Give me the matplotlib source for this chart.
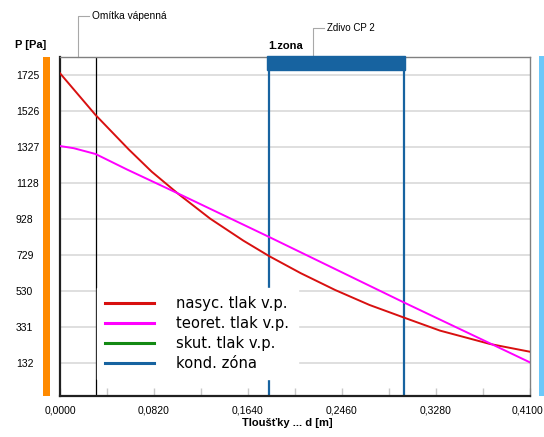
import matplotlib
matplotlib.use("Agg")
import matplotlib.pyplot as plt
from matplotlib.patches import Rectangle
import matplotlib.transforms as mtransforms
from matplotlib.lines import Line2D

plt.rcParams['font.family'] = ['Liberation Sans', 'DejaVu Sans']

# ---- data ----
d_nasyc = [0.000, 0.031, 0.060, 0.080, 0.103, 0.131, 0.160, 0.1826, 0.210, 0.240, 0.270, 0.301, 0.3315, 0.3751, 0.410]
p_nasyc = [1735, 1504, 1313, 1190, 1068, 930, 808, 722, 628, 535, 452, 380, 310, 236, 193]

d_teoret = [0.000, 0.012, 0.031, 0.0585, 0.1018, 0.1826, 0.300, 0.3766, 0.410]
p_teoret = [1332, 1320, 1288, 1202, 1073, 828, 466, 235, 134]

layer_bounds = [0.0, 0.031, 0.410]
layer_names = ["Omítka vápenná", "Zdivo CP 2"]
zone_start, zone_end = 0.1826, 0.3005
zone_label = "1.zona"

y_ticks = [132, 331, 530, 729, 928, 1128, 1327, 1526, 1725]
x_ticks = [0.0, 0.082, 0.164, 0.246, 0.328, 0.410]
x_tick_labels = ["0,0000", "0,0820", "0,1640", "0,2460", "0,3280", "0,4100"]
x_minor = [0.041 * i for i in range(11)]

legend_labels = ["nasyc. tlak v.p.", "teoret. tlak v.p.", "skut. tlak v.p.", "kond. zóna"]

c_red = '#d81010'
c_pink = '#ff00ff'
c_green = '#138a13'
c_blue = '#1763a0'

W, H = 544, 437
fig = plt.figure(figsize=(W / 100, H / 100), dpi=100)
L, R, T, B = 60, 530, 57, 396
PX = 0.41 / (R - L)
ax = fig.add_axes([L / W, 1 - B / H, (R - L) / W, (B - T) / H])
ax.set_xlim(0, 0.41)
ax.set_ylim(-52, 1825)

# grid
for v in y_ticks:
    ax.axhline(v, color='#d6d6d6', lw=1.1, zorder=1)

# layer boundary and zone lines
ax.axvline(layer_bounds[1], color='black', lw=0.9, zorder=2)
ax.axvline(zone_start, color=c_blue, lw=1.6, zorder=2)
ax.axvline(zone_end, color=c_blue, lw=1.6, zorder=2)

# curves
ax.plot(d_nasyc, p_nasyc, color=c_red, lw=1.4, zorder=3)
ax.plot(d_teoret, p_teoret, color=c_pink, lw=1.4, zorder=3)

# zone bar at top
trans = mtransforms.blended_transform_factory(ax.transData, ax.transAxes)
ax.add_patch(Rectangle((zone_start - 2 * PX, 1 - 13 / (B - T)), zone_end - zone_start + 3 * PX, 14 / (B - T),
                       transform=trans, color=c_blue, clip_on=False, zorder=6))
ax.text(zone_start - 1 * PX, 1 + 11 / (B - T), zone_label, transform=trans, ha='left', va='center',
        fontsize=8, fontweight='bold')

# layer name leaders
tops = [16, 28]
sizes = [7.3, 7.0]
for i, name in enumerate(layer_names):
    mid = (layer_bounds[i] + layer_bounds[i + 1]) / 2
    ytop = 1 + (T - tops[i]) / (B - T)
    dx = 11 * PX
    ax.plot([mid, mid, mid + dx], [1.0, ytop, ytop], transform=trans, color='#a8a8a8', lw=0.8,
            clip_on=False, zorder=1)
    ax.text(mid + dx + 3 * PX, ytop, name, transform=trans, ha='left', va='center',
            fontsize=sizes[i])

# spines
for s in ['left', 'bottom']:
    ax.spines[s].set_color('#202020')
    ax.spines[s].set_linewidth(1.6)
for s in ['top', 'right']:
    ax.spines[s].set_color('#808080')
    ax.spines[s].set_linewidth(1.0)

# ticks
ax.set_yticks(y_ticks)
ax.set_yticklabels([str(v) for v in y_ticks], fontsize=7.5)
ax.tick_params(axis='y', length=0, pad=44 * 0.72)
for lab in ax.get_yticklabels():
    lab.set_horizontalalignment('left')

ax.set_xticks(x_ticks)
ax.set_xticklabels(x_tick_labels, fontsize=7.5)
ax.set_xticks(x_minor, minor=True)
ax.tick_params(axis='x', which='both', direction='in', length=6, color='#c8c8c8', width=1, pad=6.5)
last = ax.get_xticklabels()[-1]
last.set_transform(last.get_transform() + mtransforms.ScaledTranslation(-3 / 100, 0, fig.dpi_scale_trans))

# side bars
ax.add_patch(Rectangle((-17 / (R - L), 0), 7 / (R - L), 1.0, transform=ax.transAxes,
                       color='#ff8a00', clip_on=False, lw=0))
ax.add_patch(Rectangle((1 + 9 / (R - L), 0), 5 / (R - L), 1 + 1 / (B - T), transform=ax.transAxes,
                       color='#6cc8fa', clip_on=False, lw=0))

# axis titles
fig.text(15 / W, 1 - 45 / H, "P [Pa]", ha='left', va='center', fontsize=8, fontweight='bold')
fig.text(287 / W, 1 - 423 / H, "Tloušťky ... d [m]", ha='center', va='center', fontsize=8, fontweight='bold')

# legend
handles = [Line2D([], [], color=c, lw=2.2) for c in [c_red, c_pink, c_green, c_blue]]
leg = ax.legend(handles, legend_labels, loc='lower left', bbox_to_anchor=(37 / (R - L), 17 / (B - T)),
                prop={'family': 'DejaVu Sans', 'size': 10.6}, handlelength=3.3, handletextpad=1.55,
                labelspacing=0.33, frameon=True, fancybox=False, borderaxespad=0, borderpad=0.55,
                framealpha=1.0)
leg.get_frame().set_facecolor('white')
leg.get_frame().set_edgecolor('white')
leg.set_zorder(10)

fig.savefig("out.png", dpi=100)
